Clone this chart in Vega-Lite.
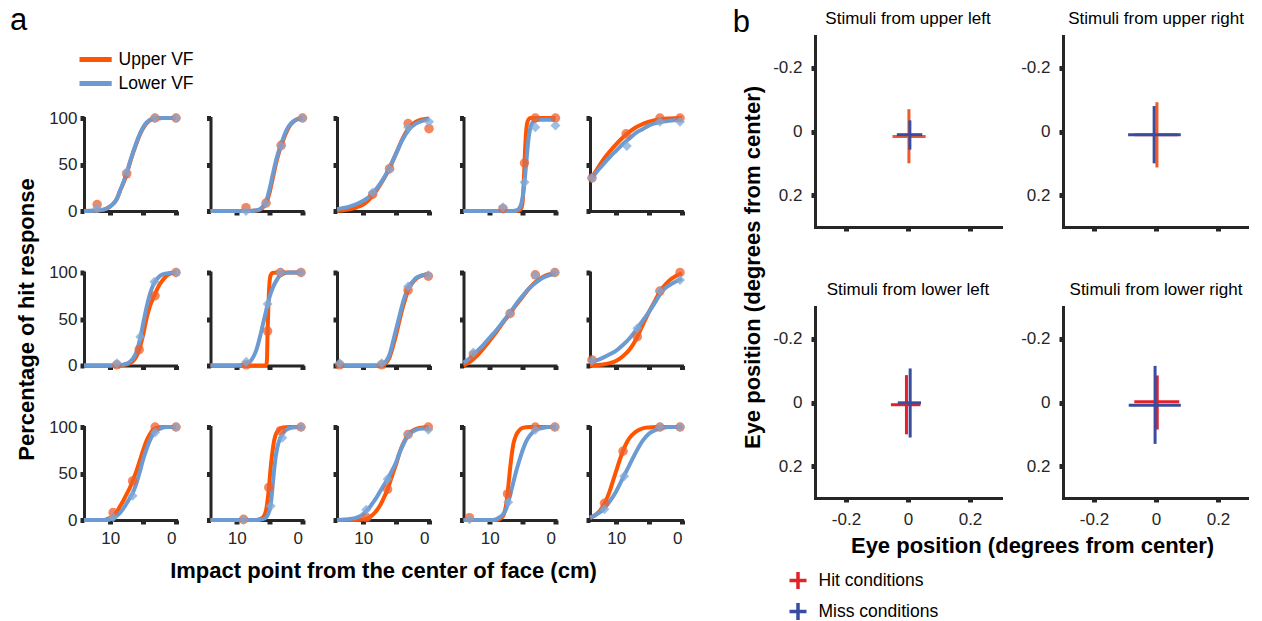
{
"$schema": "https://vega.github.io/schema/vega-lite/v6.json",
"padding": {"left": 10, "top": 5, "right": 0, "bottom": 0},
"background": "white",
"config": {
 "view": {"stroke": null},
 "font": "Liberation Sans",
 "axis": {"domainColor": "#262626", "domainWidth": 3, "domainCap": "square", "tickColor": "#262626", "tickWidth": 5, "tickSize": 4, "labelFontSize": 17, "labelColor": "#262626", "labelFont": "Liberation Sans", "grid": false, "titleFontSize": 22, "titleFontWeight": "bold", "titleColor": "#000000", "titleFont": "Liberation Sans"},
 "title": {"font": "Liberation Sans", "fontWeight": "normal", "color": "#000000"},
 "legend": {"labelFont": "Liberation Sans", "labelColor": "#000000"}
},
"datasets": {
"psy": [
{"p":"11","s":"U","k":"f","d":14,"v":0},{"p":"11","s":"U","k":"f","d":12,"v":0.5},{"p":"11","s":"U","k":"f","d":11,"v":1.5},{"p":"11","s":"U","k":"f","d":10,"v":5},{"p":"11","s":"U","k":"f","d":9,"v":13},{"p":"11","s":"U","k":"f","d":8.5,"v":22},{"p":"11","s":"U","k":"f","d":8,"v":30},{"p":"11","s":"U","k":"f","d":7.5,"v":40},{"p":"11","s":"U","k":"f","d":7,"v":52},{"p":"11","s":"U","k":"f","d":6.5,"v":63},{"p":"11","s":"U","k":"f","d":6,"v":73},{"p":"11","s":"U","k":"f","d":5.5,"v":82},{"p":"11","s":"U","k":"f","d":5,"v":89},{"p":"11","s":"U","k":"f","d":4.5,"v":94},{"p":"11","s":"U","k":"f","d":4,"v":97.5},{"p":"11","s":"U","k":"f","d":3.3,"v":99.5},{"p":"11","s":"U","k":"f","d":2,"v":100},{"p":"11","s":"U","k":"f","d":0,"v":100},
{"p":"11","s":"L","k":"f","d":14,"v":0},{"p":"11","s":"L","k":"f","d":12,"v":0.5},{"p":"11","s":"L","k":"f","d":11,"v":1.5},{"p":"11","s":"L","k":"f","d":10,"v":5},{"p":"11","s":"L","k":"f","d":9,"v":13},{"p":"11","s":"L","k":"f","d":8.5,"v":22},{"p":"11","s":"L","k":"f","d":8,"v":31},{"p":"11","s":"L","k":"f","d":7.5,"v":41},{"p":"11","s":"L","k":"f","d":7,"v":53},{"p":"11","s":"L","k":"f","d":6.5,"v":64},{"p":"11","s":"L","k":"f","d":6,"v":74},{"p":"11","s":"L","k":"f","d":5.5,"v":83},{"p":"11","s":"L","k":"f","d":5,"v":90},{"p":"11","s":"L","k":"f","d":4.5,"v":95},{"p":"11","s":"L","k":"f","d":4,"v":98},{"p":"11","s":"L","k":"f","d":3.3,"v":99.5},{"p":"11","s":"L","k":"f","d":2,"v":100},{"p":"11","s":"L","k":"f","d":0,"v":100},
{"p":"11","s":"U","k":"o","d":12,"v":7},{"p":"11","s":"U","k":"o","d":7.5,"v":40},{"p":"11","s":"U","k":"o","d":3.2,"v":100},{"p":"11","s":"U","k":"o","d":0,"v":100},
{"p":"11","s":"L","k":"o","d":12,"v":3},{"p":"11","s":"L","k":"o","d":7.5,"v":42},{"p":"11","s":"L","k":"o","d":3.2,"v":100},{"p":"11","s":"L","k":"o","d":0,"v":100},
{"p":"12","s":"U","k":"f","d":14,"v":0},{"p":"12","s":"U","k":"f","d":8,"v":0},{"p":"12","s":"U","k":"f","d":7,"v":0.5},{"p":"12","s":"U","k":"f","d":6.5,"v":1.5},{"p":"12","s":"U","k":"f","d":6,"v":4},{"p":"12","s":"U","k":"f","d":5.5,"v":9},{"p":"12","s":"U","k":"f","d":5,"v":20},{"p":"12","s":"U","k":"f","d":4.5,"v":36},{"p":"12","s":"U","k":"f","d":4,"v":52},{"p":"12","s":"U","k":"f","d":3.5,"v":65},{"p":"12","s":"U","k":"f","d":3,"v":75},{"p":"12","s":"U","k":"f","d":2.5,"v":84},{"p":"12","s":"U","k":"f","d":2,"v":91},{"p":"12","s":"U","k":"f","d":1.5,"v":95},{"p":"12","s":"U","k":"f","d":1,"v":98},{"p":"12","s":"U","k":"f","d":0,"v":100},
{"p":"12","s":"L","k":"f","d":14,"v":0},{"p":"12","s":"L","k":"f","d":8,"v":0},{"p":"12","s":"L","k":"f","d":7,"v":0.8},{"p":"12","s":"L","k":"f","d":6.5,"v":2},{"p":"12","s":"L","k":"f","d":6,"v":5},{"p":"12","s":"L","k":"f","d":5.5,"v":11},{"p":"12","s":"L","k":"f","d":5,"v":24},{"p":"12","s":"L","k":"f","d":4.5,"v":40},{"p":"12","s":"L","k":"f","d":4,"v":55},{"p":"12","s":"L","k":"f","d":3.5,"v":67},{"p":"12","s":"L","k":"f","d":3,"v":77},{"p":"12","s":"L","k":"f","d":2.5,"v":86},{"p":"12","s":"L","k":"f","d":2,"v":92},{"p":"12","s":"L","k":"f","d":1.5,"v":96},{"p":"12","s":"L","k":"f","d":1,"v":98},{"p":"12","s":"L","k":"f","d":0,"v":100},
{"p":"12","s":"U","k":"o","d":8.6,"v":3.6},{"p":"12","s":"U","k":"o","d":5.55,"v":8.6},{"p":"12","s":"U","k":"o","d":3.24,"v":70.6},{"p":"12","s":"U","k":"o","d":0,"v":100},
{"p":"12","s":"L","k":"o","d":8.6,"v":0},{"p":"12","s":"L","k":"o","d":5.55,"v":8},{"p":"12","s":"L","k":"o","d":3.24,"v":70},{"p":"12","s":"L","k":"o","d":0,"v":100},
{"p":"13","s":"U","k":"f","d":14,"v":0},{"p":"13","s":"U","k":"f","d":12,"v":2},{"p":"13","s":"U","k":"f","d":11,"v":4},{"p":"13","s":"U","k":"f","d":10,"v":7},{"p":"13","s":"U","k":"f","d":9,"v":13},{"p":"13","s":"U","k":"f","d":8.5,"v":17},{"p":"13","s":"U","k":"f","d":8,"v":22},{"p":"13","s":"U","k":"f","d":7,"v":33},{"p":"13","s":"U","k":"f","d":6,"v":46},{"p":"13","s":"U","k":"f","d":5,"v":62},{"p":"13","s":"U","k":"f","d":4,"v":78},{"p":"13","s":"U","k":"f","d":3,"v":90},{"p":"13","s":"U","k":"f","d":2,"v":96},{"p":"13","s":"U","k":"f","d":1,"v":98.5},{"p":"13","s":"U","k":"f","d":0,"v":99.5},
{"p":"13","s":"L","k":"f","d":14,"v":2},{"p":"13","s":"L","k":"f","d":12,"v":5},{"p":"13","s":"L","k":"f","d":11,"v":7.5},{"p":"13","s":"L","k":"f","d":10,"v":11},{"p":"13","s":"L","k":"f","d":9,"v":16},{"p":"13","s":"L","k":"f","d":8.5,"v":20},{"p":"13","s":"L","k":"f","d":8,"v":24},{"p":"13","s":"L","k":"f","d":7,"v":34},{"p":"13","s":"L","k":"f","d":6,"v":47},{"p":"13","s":"L","k":"f","d":5,"v":62},{"p":"13","s":"L","k":"f","d":4,"v":77},{"p":"13","s":"L","k":"f","d":3,"v":88},{"p":"13","s":"L","k":"f","d":2,"v":94},{"p":"13","s":"L","k":"f","d":1,"v":97},{"p":"13","s":"L","k":"f","d":0,"v":98.5},
{"p":"13","s":"U","k":"o","d":8.56,"v":18},{"p":"13","s":"U","k":"o","d":6,"v":45.5},{"p":"13","s":"U","k":"o","d":3.18,"v":94},{"p":"13","s":"U","k":"o","d":0,"v":88.5},
{"p":"13","s":"L","k":"o","d":8.56,"v":20},{"p":"13","s":"L","k":"o","d":6,"v":45},{"p":"13","s":"L","k":"o","d":3.18,"v":90},{"p":"13","s":"L","k":"o","d":0,"v":96},
{"p":"14","s":"U","k":"f","d":14,"v":0},{"p":"14","s":"U","k":"f","d":6,"v":0},{"p":"14","s":"U","k":"f","d":5.5,"v":0.5},{"p":"14","s":"U","k":"f","d":5.2,"v":3},{"p":"14","s":"U","k":"f","d":5,"v":10},{"p":"14","s":"U","k":"f","d":4.85,"v":28},{"p":"14","s":"U","k":"f","d":4.72,"v":50},{"p":"14","s":"U","k":"f","d":4.6,"v":70},{"p":"14","s":"U","k":"f","d":4.45,"v":87},{"p":"14","s":"U","k":"f","d":4.3,"v":95},{"p":"14","s":"U","k":"f","d":4.1,"v":98.5},{"p":"14","s":"U","k":"f","d":3.8,"v":100},{"p":"14","s":"U","k":"f","d":0,"v":100},
{"p":"14","s":"L","k":"f","d":14,"v":0},{"p":"14","s":"L","k":"f","d":6.5,"v":0},{"p":"14","s":"L","k":"f","d":6,"v":0.5},{"p":"14","s":"L","k":"f","d":5.5,"v":3},{"p":"14","s":"L","k":"f","d":5.2,"v":8},{"p":"14","s":"L","k":"f","d":4.9,"v":20},{"p":"14","s":"L","k":"f","d":4.72,"v":31},{"p":"14","s":"L","k":"f","d":4.5,"v":48},{"p":"14","s":"L","k":"f","d":4.3,"v":64},{"p":"14","s":"L","k":"f","d":4.1,"v":78},{"p":"14","s":"L","k":"f","d":3.9,"v":87},{"p":"14","s":"L","k":"f","d":3.6,"v":94},{"p":"14","s":"L","k":"f","d":3.2,"v":97},{"p":"14","s":"L","k":"f","d":2.5,"v":98},{"p":"14","s":"L","k":"f","d":0,"v":98},
{"p":"14","s":"U","k":"o","d":8,"v":2.5},{"p":"14","s":"U","k":"o","d":4.72,"v":51.6},{"p":"14","s":"U","k":"o","d":3.07,"v":100},{"p":"14","s":"U","k":"o","d":0,"v":100},
{"p":"14","s":"L","k":"o","d":8,"v":4},{"p":"14","s":"L","k":"o","d":4.72,"v":31},{"p":"14","s":"L","k":"o","d":3.07,"v":90},{"p":"14","s":"L","k":"o","d":0,"v":92},
{"p":"15","s":"U","k":"f","d":14,"v":33},{"p":"15","s":"U","k":"f","d":13,"v":44},{"p":"15","s":"U","k":"f","d":12,"v":55},{"p":"15","s":"U","k":"f","d":11,"v":64},{"p":"15","s":"U","k":"f","d":10,"v":72},{"p":"15","s":"U","k":"f","d":9,"v":79},{"p":"15","s":"U","k":"f","d":8,"v":85},{"p":"15","s":"U","k":"f","d":7,"v":90},{"p":"15","s":"U","k":"f","d":6,"v":93.5},{"p":"15","s":"U","k":"f","d":5,"v":96},{"p":"15","s":"U","k":"f","d":4,"v":98},{"p":"15","s":"U","k":"f","d":3,"v":99},{"p":"15","s":"U","k":"f","d":2,"v":99.5},{"p":"15","s":"U","k":"f","d":0,"v":100},
{"p":"15","s":"L","k":"f","d":14,"v":33},{"p":"15","s":"L","k":"f","d":13,"v":42},{"p":"15","s":"L","k":"f","d":12,"v":50},{"p":"15","s":"L","k":"f","d":11,"v":58},{"p":"15","s":"L","k":"f","d":10,"v":65},{"p":"15","s":"L","k":"f","d":9,"v":72},{"p":"15","s":"L","k":"f","d":8,"v":78},{"p":"15","s":"L","k":"f","d":7,"v":84},{"p":"15","s":"L","k":"f","d":6,"v":88},{"p":"15","s":"L","k":"f","d":5,"v":92},{"p":"15","s":"L","k":"f","d":4,"v":94.5},{"p":"15","s":"L","k":"f","d":3,"v":96},{"p":"15","s":"L","k":"f","d":2,"v":97},{"p":"15","s":"L","k":"f","d":0,"v":98},
{"p":"15","s":"U","k":"o","d":13.7,"v":35.5},{"p":"15","s":"U","k":"o","d":8.5,"v":83},{"p":"15","s":"U","k":"o","d":3.36,"v":100},{"p":"15","s":"U","k":"o","d":0.3,"v":100},
{"p":"15","s":"L","k":"o","d":13.7,"v":35.5},{"p":"15","s":"L","k":"o","d":8.4,"v":70},{"p":"15","s":"L","k":"o","d":3.36,"v":96},{"p":"15","s":"L","k":"o","d":0.3,"v":96},
{"p":"21","s":"U","k":"f","d":14,"v":0},{"p":"21","s":"U","k":"f","d":9,"v":0},{"p":"21","s":"U","k":"f","d":8,"v":0.5},{"p":"21","s":"U","k":"f","d":7,"v":2.5},{"p":"21","s":"U","k":"f","d":6.5,"v":5},{"p":"21","s":"U","k":"f","d":6,"v":10},{"p":"21","s":"U","k":"f","d":5.6,"v":17},{"p":"21","s":"U","k":"f","d":5,"v":33},{"p":"21","s":"U","k":"f","d":4.5,"v":50},{"p":"21","s":"U","k":"f","d":4,"v":63},{"p":"21","s":"U","k":"f","d":3.5,"v":72},{"p":"21","s":"U","k":"f","d":3,"v":80},{"p":"21","s":"U","k":"f","d":2.5,"v":87},{"p":"21","s":"U","k":"f","d":2,"v":92},{"p":"21","s":"U","k":"f","d":1.5,"v":96},{"p":"21","s":"U","k":"f","d":1,"v":98.5},{"p":"21","s":"U","k":"f","d":0,"v":100},
{"p":"21","s":"L","k":"f","d":14,"v":0},{"p":"21","s":"L","k":"f","d":9,"v":0},{"p":"21","s":"L","k":"f","d":8,"v":1},{"p":"21","s":"L","k":"f","d":7,"v":4},{"p":"21","s":"L","k":"f","d":6.5,"v":8},{"p":"21","s":"L","k":"f","d":6,"v":15},{"p":"21","s":"L","k":"f","d":5.4,"v":31},{"p":"21","s":"L","k":"f","d":5,"v":45},{"p":"21","s":"L","k":"f","d":4.5,"v":62},{"p":"21","s":"L","k":"f","d":4,"v":76},{"p":"21","s":"L","k":"f","d":3.5,"v":86},{"p":"21","s":"L","k":"f","d":3,"v":92},{"p":"21","s":"L","k":"f","d":2.5,"v":96},{"p":"21","s":"L","k":"f","d":2,"v":98},{"p":"21","s":"L","k":"f","d":1,"v":99.5},{"p":"21","s":"L","k":"f","d":0,"v":100},
{"p":"21","s":"U","k":"o","d":9,"v":0.7},{"p":"21","s":"U","k":"o","d":5.6,"v":17},{"p":"21","s":"U","k":"o","d":3.18,"v":75},{"p":"21","s":"U","k":"o","d":0,"v":100},
{"p":"21","s":"L","k":"o","d":9,"v":2.5},{"p":"21","s":"L","k":"o","d":5.43,"v":31},{"p":"21","s":"L","k":"o","d":3.3,"v":90},{"p":"21","s":"L","k":"o","d":0,"v":100},
{"p":"22","s":"U","k":"f","d":14,"v":0},{"p":"22","s":"U","k":"f","d":5.7,"v":0},{"p":"22","s":"U","k":"f","d":5.5,"v":1},{"p":"22","s":"U","k":"f","d":5.4,"v":8},{"p":"22","s":"U","k":"f","d":5.31,"v":37},{"p":"22","s":"U","k":"f","d":5.2,"v":62},{"p":"22","s":"U","k":"f","d":5.1,"v":80},{"p":"22","s":"U","k":"f","d":5,"v":91},{"p":"22","s":"U","k":"f","d":4.85,"v":97},{"p":"22","s":"U","k":"f","d":4.6,"v":99.5},{"p":"22","s":"U","k":"f","d":4,"v":100},{"p":"22","s":"U","k":"f","d":0,"v":100},
{"p":"22","s":"L","k":"f","d":14,"v":0},{"p":"22","s":"L","k":"f","d":10,"v":0},{"p":"22","s":"L","k":"f","d":9,"v":1},{"p":"22","s":"L","k":"f","d":8.5,"v":2},{"p":"22","s":"L","k":"f","d":8,"v":4},{"p":"22","s":"L","k":"f","d":7.5,"v":9},{"p":"22","s":"L","k":"f","d":7,"v":17},{"p":"22","s":"L","k":"f","d":6.5,"v":30},{"p":"22","s":"L","k":"f","d":6,"v":45},{"p":"22","s":"L","k":"f","d":5.5,"v":60},{"p":"22","s":"L","k":"f","d":5.3,"v":66},{"p":"22","s":"L","k":"f","d":5,"v":74},{"p":"22","s":"L","k":"f","d":4.5,"v":84},{"p":"22","s":"L","k":"f","d":4,"v":91},{"p":"22","s":"L","k":"f","d":3.5,"v":96},{"p":"22","s":"L","k":"f","d":3,"v":98.5},{"p":"22","s":"L","k":"f","d":2,"v":100},{"p":"22","s":"L","k":"f","d":0,"v":100},
{"p":"22","s":"U","k":"o","d":8.56,"v":0.7},{"p":"22","s":"U","k":"o","d":5.31,"v":37},{"p":"22","s":"U","k":"o","d":3.36,"v":100},{"p":"22","s":"U","k":"o","d":0.23,"v":100},
{"p":"22","s":"L","k":"o","d":8.56,"v":4},{"p":"22","s":"L","k":"o","d":5.31,"v":66},{"p":"22","s":"L","k":"o","d":3.36,"v":100},{"p":"22","s":"L","k":"o","d":0.23,"v":100},
{"p":"23","s":"U","k":"f","d":14,"v":0},{"p":"23","s":"U","k":"f","d":7.5,"v":0},{"p":"23","s":"U","k":"f","d":7,"v":1},{"p":"23","s":"U","k":"f","d":6.5,"v":3},{"p":"23","s":"U","k":"f","d":6,"v":9},{"p":"23","s":"U","k":"f","d":5.5,"v":20},{"p":"23","s":"U","k":"f","d":5,"v":33},{"p":"23","s":"U","k":"f","d":4.5,"v":48},{"p":"23","s":"U","k":"f","d":4,"v":62},{"p":"23","s":"U","k":"f","d":3.5,"v":74},{"p":"23","s":"U","k":"f","d":3.2,"v":81},{"p":"23","s":"U","k":"f","d":2.5,"v":89},{"p":"23","s":"U","k":"f","d":2,"v":93},{"p":"23","s":"U","k":"f","d":1,"v":97},{"p":"23","s":"U","k":"f","d":0,"v":98.5},
{"p":"23","s":"L","k":"f","d":14,"v":0},{"p":"23","s":"L","k":"f","d":8,"v":0},{"p":"23","s":"L","k":"f","d":7,"v":1.5},{"p":"23","s":"L","k":"f","d":6.5,"v":5},{"p":"23","s":"L","k":"f","d":6,"v":12},{"p":"23","s":"L","k":"f","d":5.5,"v":25},{"p":"23","s":"L","k":"f","d":5,"v":39},{"p":"23","s":"L","k":"f","d":4.5,"v":53},{"p":"23","s":"L","k":"f","d":4,"v":67},{"p":"23","s":"L","k":"f","d":3.5,"v":78},{"p":"23","s":"L","k":"f","d":3.2,"v":84},{"p":"23","s":"L","k":"f","d":2.5,"v":90},{"p":"23","s":"L","k":"f","d":2,"v":94},{"p":"23","s":"L","k":"f","d":1,"v":97},{"p":"23","s":"L","k":"f","d":0,"v":98.5},
{"p":"23","s":"U","k":"o","d":13.6,"v":0.7},{"p":"23","s":"U","k":"o","d":7.2,"v":0.7},{"p":"23","s":"U","k":"o","d":3.18,"v":81},{"p":"23","s":"U","k":"o","d":0.1,"v":96},
{"p":"23","s":"L","k":"o","d":13.6,"v":2.5},{"p":"23","s":"L","k":"o","d":7.2,"v":2.5},{"p":"23","s":"L","k":"o","d":3.18,"v":85},{"p":"23","s":"L","k":"o","d":0.1,"v":97},
{"p":"24","s":"U","k":"f","d":14,"v":0},{"p":"24","s":"U","k":"f","d":13,"v":4},{"p":"24","s":"U","k":"f","d":12,"v":10},{"p":"24","s":"U","k":"f","d":11,"v":18},{"p":"24","s":"U","k":"f","d":10,"v":27},{"p":"24","s":"U","k":"f","d":9,"v":36},{"p":"24","s":"U","k":"f","d":8,"v":46},{"p":"24","s":"U","k":"f","d":7,"v":55},{"p":"24","s":"U","k":"f","d":6,"v":65},{"p":"24","s":"U","k":"f","d":5,"v":74},{"p":"24","s":"U","k":"f","d":4,"v":83},{"p":"24","s":"U","k":"f","d":3,"v":90},{"p":"24","s":"U","k":"f","d":2,"v":95},{"p":"24","s":"U","k":"f","d":1,"v":98},{"p":"24","s":"U","k":"f","d":0,"v":99.5},
{"p":"24","s":"L","k":"f","d":14,"v":3},{"p":"24","s":"L","k":"f","d":13,"v":8},{"p":"24","s":"L","k":"f","d":12,"v":15},{"p":"24","s":"L","k":"f","d":11,"v":22},{"p":"24","s":"L","k":"f","d":10,"v":30},{"p":"24","s":"L","k":"f","d":9,"v":38},{"p":"24","s":"L","k":"f","d":8,"v":47},{"p":"24","s":"L","k":"f","d":7,"v":56},{"p":"24","s":"L","k":"f","d":6,"v":66},{"p":"24","s":"L","k":"f","d":5,"v":75},{"p":"24","s":"L","k":"f","d":4,"v":83},{"p":"24","s":"L","k":"f","d":3,"v":89},{"p":"24","s":"L","k":"f","d":2,"v":94},{"p":"24","s":"L","k":"f","d":1,"v":97},{"p":"24","s":"L","k":"f","d":0,"v":98.5},
{"p":"24","s":"U","k":"o","d":12.5,"v":11.5},{"p":"24","s":"U","k":"o","d":6.9,"v":56},{"p":"24","s":"U","k":"o","d":3.07,"v":97.5},{"p":"24","s":"U","k":"o","d":0.1,"v":100},
{"p":"24","s":"L","k":"o","d":12.5,"v":14},{"p":"24","s":"L","k":"o","d":6.9,"v":56},{"p":"24","s":"L","k":"o","d":3.07,"v":97},{"p":"24","s":"L","k":"o","d":0.1,"v":100},
{"p":"25","s":"U","k":"f","d":14,"v":0},{"p":"25","s":"U","k":"f","d":12,"v":1},{"p":"25","s":"U","k":"f","d":11,"v":2.5},{"p":"25","s":"U","k":"f","d":10,"v":5},{"p":"25","s":"U","k":"f","d":9,"v":10},{"p":"25","s":"U","k":"f","d":8,"v":17},{"p":"25","s":"U","k":"f","d":7,"v":28},{"p":"25","s":"U","k":"f","d":6,"v":43},{"p":"25","s":"U","k":"f","d":5,"v":58},{"p":"25","s":"U","k":"f","d":4,"v":71},{"p":"25","s":"U","k":"f","d":3.4,"v":79},{"p":"25","s":"U","k":"f","d":3,"v":83},{"p":"25","s":"U","k":"f","d":2,"v":91},{"p":"25","s":"U","k":"f","d":1,"v":96},{"p":"25","s":"U","k":"f","d":0,"v":99},
{"p":"25","s":"L","k":"f","d":14,"v":3},{"p":"25","s":"L","k":"f","d":13,"v":5.5},{"p":"25","s":"L","k":"f","d":12,"v":8.5},{"p":"25","s":"L","k":"f","d":11,"v":12},{"p":"25","s":"L","k":"f","d":10,"v":16},{"p":"25","s":"L","k":"f","d":9,"v":22},{"p":"25","s":"L","k":"f","d":8,"v":29},{"p":"25","s":"L","k":"f","d":7,"v":38},{"p":"25","s":"L","k":"f","d":6,"v":48},{"p":"25","s":"L","k":"f","d":5,"v":58},{"p":"25","s":"L","k":"f","d":4,"v":69},{"p":"25","s":"L","k":"f","d":3.4,"v":76},{"p":"25","s":"L","k":"f","d":3,"v":80},{"p":"25","s":"L","k":"f","d":2,"v":86},{"p":"25","s":"L","k":"f","d":1,"v":90},{"p":"25","s":"L","k":"f","d":0,"v":93},
{"p":"25","s":"U","k":"o","d":13.7,"v":6},{"p":"25","s":"U","k":"o","d":6.8,"v":31},{"p":"25","s":"U","k":"o","d":3.36,"v":80},{"p":"25","s":"U","k":"o","d":0.3,"v":100},
{"p":"25","s":"L","k":"o","d":13.7,"v":5},{"p":"25","s":"L","k":"o","d":6.8,"v":40},{"p":"25","s":"L","k":"o","d":3.36,"v":80},{"p":"25","s":"L","k":"o","d":0.3,"v":92},
{"p":"31","s":"U","k":"f","d":14,"v":0},{"p":"31","s":"U","k":"f","d":11,"v":0},{"p":"31","s":"U","k":"f","d":10.5,"v":1},{"p":"31","s":"U","k":"f","d":10,"v":2.5},{"p":"31","s":"U","k":"f","d":9.5,"v":5},{"p":"31","s":"U","k":"f","d":9,"v":9},{"p":"31","s":"U","k":"f","d":8.5,"v":15},{"p":"31","s":"U","k":"f","d":8,"v":21},{"p":"31","s":"U","k":"f","d":7.5,"v":28},{"p":"31","s":"U","k":"f","d":7,"v":35},{"p":"31","s":"U","k":"f","d":6.6,"v":42},{"p":"31","s":"U","k":"f","d":6,"v":53},{"p":"31","s":"U","k":"f","d":5.5,"v":64},{"p":"31","s":"U","k":"f","d":5,"v":75},{"p":"31","s":"U","k":"f","d":4.5,"v":85},{"p":"31","s":"U","k":"f","d":4,"v":92},{"p":"31","s":"U","k":"f","d":3.5,"v":97},{"p":"31","s":"U","k":"f","d":3,"v":99},{"p":"31","s":"U","k":"f","d":2,"v":100},{"p":"31","s":"U","k":"f","d":0,"v":100},
{"p":"31","s":"L","k":"f","d":14,"v":0},{"p":"31","s":"L","k":"f","d":10.5,"v":0},{"p":"31","s":"L","k":"f","d":10,"v":0.8},{"p":"31","s":"L","k":"f","d":9.5,"v":2},{"p":"31","s":"L","k":"f","d":9,"v":4.5},{"p":"31","s":"L","k":"f","d":8.5,"v":8},{"p":"31","s":"L","k":"f","d":8,"v":12.5},{"p":"31","s":"L","k":"f","d":7.5,"v":18},{"p":"31","s":"L","k":"f","d":7,"v":24},{"p":"31","s":"L","k":"f","d":6.6,"v":29},{"p":"31","s":"L","k":"f","d":6,"v":40},{"p":"31","s":"L","k":"f","d":5.5,"v":52},{"p":"31","s":"L","k":"f","d":5,"v":65},{"p":"31","s":"L","k":"f","d":4.5,"v":76},{"p":"31","s":"L","k":"f","d":4,"v":85},{"p":"31","s":"L","k":"f","d":3.5,"v":92},{"p":"31","s":"L","k":"f","d":3,"v":96},{"p":"31","s":"L","k":"f","d":2.5,"v":98},{"p":"31","s":"L","k":"f","d":1.5,"v":100},{"p":"31","s":"L","k":"f","d":0,"v":100},
{"p":"31","s":"U","k":"o","d":9.57,"v":8},{"p":"31","s":"U","k":"o","d":6.6,"v":42},{"p":"31","s":"U","k":"o","d":3.18,"v":100},{"p":"31","s":"U","k":"o","d":0,"v":100},
{"p":"31","s":"L","k":"o","d":9.57,"v":3},{"p":"31","s":"L","k":"o","d":6.6,"v":26},{"p":"31","s":"L","k":"o","d":3.18,"v":94},{"p":"31","s":"L","k":"o","d":0,"v":100},
{"p":"32","s":"U","k":"f","d":14,"v":0},{"p":"32","s":"U","k":"f","d":7,"v":0},{"p":"32","s":"U","k":"f","d":6.5,"v":1},{"p":"32","s":"U","k":"f","d":6,"v":3},{"p":"32","s":"U","k":"f","d":5.5,"v":12},{"p":"32","s":"U","k":"f","d":5.3,"v":22},{"p":"32","s":"U","k":"f","d":5.1,"v":35},{"p":"32","s":"U","k":"f","d":4.9,"v":52},{"p":"32","s":"U","k":"f","d":4.7,"v":66},{"p":"32","s":"U","k":"f","d":4.5,"v":77},{"p":"32","s":"U","k":"f","d":4.3,"v":86},{"p":"32","s":"U","k":"f","d":4,"v":93},{"p":"32","s":"U","k":"f","d":3.6,"v":97},{"p":"32","s":"U","k":"f","d":3,"v":99.5},{"p":"32","s":"U","k":"f","d":2,"v":100},{"p":"32","s":"U","k":"f","d":0,"v":100},
{"p":"32","s":"L","k":"f","d":14,"v":0},{"p":"32","s":"L","k":"f","d":7,"v":0},{"p":"32","s":"L","k":"f","d":6,"v":1},{"p":"32","s":"L","k":"f","d":5.5,"v":3},{"p":"32","s":"L","k":"f","d":5.2,"v":7},{"p":"32","s":"L","k":"f","d":4.9,"v":14},{"p":"32","s":"L","k":"f","d":4.7,"v":25},{"p":"32","s":"L","k":"f","d":4.5,"v":40},{"p":"32","s":"L","k":"f","d":4.3,"v":55},{"p":"32","s":"L","k":"f","d":4.1,"v":67},{"p":"32","s":"L","k":"f","d":3.8,"v":79},{"p":"32","s":"L","k":"f","d":3.4,"v":88},{"p":"32","s":"L","k":"f","d":3,"v":93},{"p":"32","s":"L","k":"f","d":2.5,"v":97},{"p":"32","s":"L","k":"f","d":1.5,"v":99.5},{"p":"32","s":"L","k":"f","d":0,"v":100},
{"p":"32","s":"U","k":"o","d":8.97,"v":0.7},{"p":"32","s":"U","k":"o","d":5.13,"v":35},{"p":"32","s":"U","k":"o","d":3.36,"v":96},{"p":"32","s":"U","k":"o","d":0.23,"v":100},
{"p":"32","s":"L","k":"o","d":8.97,"v":0},{"p":"32","s":"L","k":"o","d":4.84,"v":15},{"p":"32","s":"L","k":"o","d":3.07,"v":88.5},{"p":"32","s":"L","k":"o","d":0.23,"v":100},
{"p":"33","s":"U","k":"f","d":14,"v":0},{"p":"33","s":"U","k":"f","d":11,"v":0},{"p":"33","s":"U","k":"f","d":10,"v":0.5},{"p":"33","s":"U","k":"f","d":9.5,"v":1.5},{"p":"33","s":"U","k":"f","d":9,"v":3},{"p":"33","s":"U","k":"f","d":8.5,"v":6},{"p":"33","s":"U","k":"f","d":8,"v":10},{"p":"33","s":"U","k":"f","d":7.5,"v":15},{"p":"33","s":"U","k":"f","d":7,"v":22},{"p":"33","s":"U","k":"f","d":6.3,"v":33},{"p":"33","s":"U","k":"f","d":5.5,"v":50},{"p":"33","s":"U","k":"f","d":5,"v":60},{"p":"33","s":"U","k":"f","d":4.5,"v":72},{"p":"33","s":"U","k":"f","d":4,"v":81},{"p":"33","s":"U","k":"f","d":3.5,"v":88},{"p":"33","s":"U","k":"f","d":3,"v":93},{"p":"33","s":"U","k":"f","d":2.5,"v":96},{"p":"33","s":"U","k":"f","d":1.5,"v":99},{"p":"33","s":"U","k":"f","d":0,"v":100},
{"p":"33","s":"L","k":"f","d":14,"v":0},{"p":"33","s":"L","k":"f","d":12,"v":1},{"p":"33","s":"L","k":"f","d":11,"v":2.5},{"p":"33","s":"L","k":"f","d":10.5,"v":4},{"p":"33","s":"L","k":"f","d":10,"v":6.5},{"p":"33","s":"L","k":"f","d":9.5,"v":10},{"p":"33","s":"L","k":"f","d":9,"v":14},{"p":"33","s":"L","k":"f","d":8.5,"v":19},{"p":"33","s":"L","k":"f","d":8,"v":24},{"p":"33","s":"L","k":"f","d":7.5,"v":30},{"p":"33","s":"L","k":"f","d":7,"v":36},{"p":"33","s":"L","k":"f","d":6.3,"v":44},{"p":"33","s":"L","k":"f","d":5.5,"v":55},{"p":"33","s":"L","k":"f","d":5,"v":62},{"p":"33","s":"L","k":"f","d":4.5,"v":72},{"p":"33","s":"L","k":"f","d":4,"v":80},{"p":"33","s":"L","k":"f","d":3.5,"v":87},{"p":"33","s":"L","k":"f","d":3,"v":92},{"p":"33","s":"L","k":"f","d":2.5,"v":95},{"p":"33","s":"L","k":"f","d":1.5,"v":98},{"p":"33","s":"L","k":"f","d":0,"v":99},
{"p":"33","s":"U","k":"o","d":9.45,"v":2.5},{"p":"33","s":"U","k":"o","d":6.3,"v":33},{"p":"33","s":"U","k":"o","d":3.18,"v":92},{"p":"33","s":"U","k":"o","d":0.1,"v":100},
{"p":"33","s":"L","k":"o","d":9.56,"v":11},{"p":"33","s":"L","k":"o","d":6.3,"v":44},{"p":"33","s":"L","k":"o","d":3.18,"v":92},{"p":"33","s":"L","k":"o","d":0.1,"v":97},
{"p":"34","s":"U","k":"f","d":14,"v":0},{"p":"34","s":"U","k":"f","d":9,"v":0},{"p":"34","s":"U","k":"f","d":8.5,"v":1},{"p":"34","s":"U","k":"f","d":8,"v":4},{"p":"34","s":"U","k":"f","d":7.7,"v":10},{"p":"34","s":"U","k":"f","d":7.5,"v":17},{"p":"34","s":"U","k":"f","d":7.3,"v":28},{"p":"34","s":"U","k":"f","d":7.1,"v":42},{"p":"34","s":"U","k":"f","d":6.9,"v":56},{"p":"34","s":"U","k":"f","d":6.7,"v":68},{"p":"34","s":"U","k":"f","d":6.4,"v":82},{"p":"34","s":"U","k":"f","d":6,"v":91},{"p":"34","s":"U","k":"f","d":5.5,"v":96.5},{"p":"34","s":"U","k":"f","d":5,"v":99},{"p":"34","s":"U","k":"f","d":4,"v":100},{"p":"34","s":"U","k":"f","d":0,"v":100},
{"p":"34","s":"L","k":"f","d":14,"v":0},{"p":"34","s":"L","k":"f","d":9.5,"v":0},{"p":"34","s":"L","k":"f","d":9,"v":1},{"p":"34","s":"L","k":"f","d":8.5,"v":3},{"p":"34","s":"L","k":"f","d":8,"v":6},{"p":"34","s":"L","k":"f","d":7.5,"v":12},{"p":"34","s":"L","k":"f","d":7.2,"v":19},{"p":"34","s":"L","k":"f","d":7,"v":24},{"p":"34","s":"L","k":"f","d":6.5,"v":38},{"p":"34","s":"L","k":"f","d":6,"v":52},{"p":"34","s":"L","k":"f","d":5.5,"v":64},{"p":"34","s":"L","k":"f","d":5,"v":75},{"p":"34","s":"L","k":"f","d":4.5,"v":84},{"p":"34","s":"L","k":"f","d":4,"v":90},{"p":"34","s":"L","k":"f","d":3.5,"v":94},{"p":"34","s":"L","k":"f","d":3,"v":97},{"p":"34","s":"L","k":"f","d":2,"v":99},{"p":"34","s":"L","k":"f","d":1,"v":100},{"p":"34","s":"L","k":"f","d":0,"v":100},
{"p":"34","s":"U","k":"o","d":13.1,"v":2.5},{"p":"34","s":"U","k":"o","d":7.3,"v":28},{"p":"34","s":"U","k":"o","d":3.07,"v":100},{"p":"34","s":"U","k":"o","d":0.1,"v":100},
{"p":"34","s":"L","k":"o","d":13.1,"v":0.7},{"p":"34","s":"L","k":"o","d":7.2,"v":19},{"p":"34","s":"L","k":"o","d":3.07,"v":97},{"p":"34","s":"L","k":"o","d":0.1,"v":100},
{"p":"35","s":"U","k":"f","d":14,"v":2},{"p":"35","s":"U","k":"f","d":13.5,"v":4},{"p":"35","s":"U","k":"f","d":13,"v":6.5},{"p":"35","s":"U","k":"f","d":12.5,"v":10},{"p":"35","s":"U","k":"f","d":12,"v":15},{"p":"35","s":"U","k":"f","d":11.5,"v":22},{"p":"35","s":"U","k":"f","d":11,"v":31},{"p":"35","s":"U","k":"f","d":10.5,"v":42},{"p":"35","s":"U","k":"f","d":10,"v":53},{"p":"35","s":"U","k":"f","d":9.5,"v":64},{"p":"35","s":"U","k":"f","d":9,"v":74},{"p":"35","s":"U","k":"f","d":8.5,"v":82},{"p":"35","s":"U","k":"f","d":8,"v":88},{"p":"35","s":"U","k":"f","d":7.5,"v":92},{"p":"35","s":"U","k":"f","d":7,"v":95},{"p":"35","s":"U","k":"f","d":6,"v":98.5},{"p":"35","s":"U","k":"f","d":5,"v":99.5},{"p":"35","s":"U","k":"f","d":4,"v":100},{"p":"35","s":"U","k":"f","d":0,"v":100},
{"p":"35","s":"L","k":"f","d":14,"v":2.5},{"p":"35","s":"L","k":"f","d":13,"v":6},{"p":"35","s":"L","k":"f","d":12,"v":11},{"p":"35","s":"L","k":"f","d":11,"v":20},{"p":"35","s":"L","k":"f","d":10,"v":31},{"p":"35","s":"L","k":"f","d":9.5,"v":38},{"p":"35","s":"L","k":"f","d":9,"v":45},{"p":"35","s":"L","k":"f","d":8.5,"v":52},{"p":"35","s":"L","k":"f","d":8,"v":59},{"p":"35","s":"L","k":"f","d":7,"v":73},{"p":"35","s":"L","k":"f","d":6,"v":85},{"p":"35","s":"L","k":"f","d":5,"v":93},{"p":"35","s":"L","k":"f","d":4,"v":97},{"p":"35","s":"L","k":"f","d":3,"v":99},{"p":"35","s":"L","k":"f","d":2,"v":100},{"p":"35","s":"L","k":"f","d":0,"v":100},
{"p":"35","s":"U","k":"o","d":11.8,"v":18},{"p":"35","s":"U","k":"o","d":8.97,"v":74},{"p":"35","s":"U","k":"o","d":3.36,"v":100},{"p":"35","s":"U","k":"o","d":0.3,"v":100},
{"p":"35","s":"L","k":"o","d":11.8,"v":11.5},{"p":"35","s":"L","k":"o","d":8.8,"v":47},{"p":"35","s":"L","k":"o","d":3.36,"v":100},{"p":"35","s":"L","k":"o","d":0.3,"v":100}
],
"cross": [
{"p":"UL","c":"Hit conditions","x":-0.05,"x2":0.057,"y":0.016,"y2":0.016},
{"p":"UL","c":"Hit conditions","x":0.003,"x2":0.003,"y":-0.07,"y2":0.1},
{"p":"UL","c":"Miss conditions","x":-0.036,"x2":0.046,"y":0.01,"y2":0.01},
{"p":"UL","c":"Miss conditions","x":0.006,"x2":0.006,"y":-0.035,"y2":0.057},
{"p":"UR","c":"Hit conditions","x":-0.07,"x2":0.07,"y":0.01,"y2":0.01},
{"p":"UR","c":"Hit conditions","x":0.003,"x2":0.003,"y":-0.092,"y2":0.113},
{"p":"UR","c":"Miss conditions","x":-0.09,"x2":0.08,"y":0.01,"y2":0.01},
{"p":"UR","c":"Miss conditions","x":-0.006,"x2":-0.006,"y":-0.08,"y2":0.1},
{"p":"LL","c":"Hit conditions","x":-0.055,"x2":0.04,"y":0.007,"y2":0.007},
{"p":"LL","c":"Hit conditions","x":-0.005,"x2":-0.005,"y":-0.086,"y2":0.1},
{"p":"LL","c":"Miss conditions","x":-0.033,"x2":0.042,"y":0.001,"y2":0.001},
{"p":"LL","c":"Miss conditions","x":0.007,"x2":0.007,"y":-0.107,"y2":0.11},
{"p":"LR","c":"Hit conditions","x":-0.07,"x2":0.075,"y":-0.002,"y2":-0.002},
{"p":"LR","c":"Hit conditions","x":0.004,"x2":0.004,"y":-0.085,"y2":0.085},
{"p":"LR","c":"Miss conditions","x":-0.088,"x2":0.08,"y":0.009,"y2":0.009},
{"p":"LR","c":"Miss conditions","x":-0.003,"x2":-0.003,"y":-0.115,"y2":0.13}
]
},
"resolve": {"scale": {"color": "independent"}},
"spacing": 42,
"hconcat": [
{
"spacing": 13,
"resolve": {"scale": {"color": "independent"}},
"vconcat": [
{"title": {"text": "a", "anchor": "start", "frame": "group", "dx": -74, "offset": -25, "fontSize": 31, "baseline": "alphabetic"},
 "width": 92, "height": 60, "data": {"name": "psy"}, "transform": [{"filter": "datum.p=='none'"}],
 "mark": {"type": "line", "strokeWidth": 4},
 "encoding": {
  "x": {"field": "d", "type": "quantitative", "scale": {"domain": [0, 14]}, "axis": null},
  "y": {"field": "v", "type": "quantitative", "scale": {"domain": [0, 100]}, "axis": null},
  "color": {"field": "s", "type": "nominal", "scale": {"domain": ["U", "L"], "range": ["#FF5500", "#6B9BD2"]}, "legend": {"orient": "none", "legendX": -2.4, "legendY": 9.5, "title": null, "symbolType": "M-1.4,0H1.4", "symbolSize": 529, "symbolStrokeWidth": 5, "labelFontSize": 17.5, "labelOffset": 9, "rowPadding": 0, "labelExpr": "datum.label=='U'?'Upper VF':'Lower VF'"}}}},
{
"columns": 5,
"spacing": {"row": 61.5, "column": 34.5},
"bounds": "flush",
"resolve": {"scale": {"color": "independent"}},
"concat": [
{"width": 92, "height": 93, "data": {"name": "psy"}, "transform": [{"filter": "datum.p=='11'"}],
 "encoding": {"x": {"field": "d", "type": "quantitative", "scale": {"domain": [0, 14], "reverse": true, "nice": false, "zero": false}, "axis": {"values": [0, 5, 10], "labels": false, "title": null}},
  "y": {"field": "v", "type": "quantitative", "scale": {"domain": [0, 100], "nice": false}, "axis": {"values": [0, 50, 100], "labelPadding": 3, "title": null}}},
 "layer": [
  {"transform": [{"filter": "datum.k=='f'&&datum.s=='U'"}], "mark": {"type": "line", "interpolate": "monotone", "strokeWidth": 4, "color": "#FF5500"}, "encoding": {}},
  {"transform": [{"filter": "datum.k=='f'&&datum.s=='L'"}], "mark": {"type": "line", "interpolate": "monotone", "strokeWidth": 4, "color": "#6B9BD2"}, "encoding": {}},
  {"transform": [{"filter": "datum.k=='o'&&datum.s=='U'"}], "mark": {"type": "point", "shape": "circle", "filled": true, "size": 90, "opacity": 0.75, "strokeWidth": 0, "color": "#F25F2A"}, "encoding": {}},
  {"transform": [{"filter": "datum.k=='o'&&datum.s=='L'"}], "mark": {"type": "point", "shape": "diamond", "filled": true, "size": 100, "opacity": 0.75, "strokeWidth": 0, "color": "#7FA9D8"}, "encoding": {}}
 ]},
{"width": 92, "height": 93, "data": {"name": "psy"}, "transform": [{"filter": "datum.p=='12'"}],
 "encoding": {"x": {"field": "d", "type": "quantitative", "scale": {"domain": [0, 14], "reverse": true, "nice": false, "zero": false}, "axis": {"values": [0, 5, 10], "labels": false, "title": null}},
  "y": {"field": "v", "type": "quantitative", "scale": {"domain": [0, 100], "nice": false}, "axis": {"values": [0, 50, 100], "labels": false, "title": null}}},
 "layer": [
  {"transform": [{"filter": "datum.k=='f'&&datum.s=='U'"}], "mark": {"type": "line", "interpolate": "monotone", "strokeWidth": 4, "color": "#FF5500"}, "encoding": {}},
  {"transform": [{"filter": "datum.k=='f'&&datum.s=='L'"}], "mark": {"type": "line", "interpolate": "monotone", "strokeWidth": 4, "color": "#6B9BD2"}, "encoding": {}},
  {"transform": [{"filter": "datum.k=='o'&&datum.s=='U'"}], "mark": {"type": "point", "shape": "circle", "filled": true, "size": 90, "opacity": 0.75, "strokeWidth": 0, "color": "#F25F2A"}, "encoding": {}},
  {"transform": [{"filter": "datum.k=='o'&&datum.s=='L'"}], "mark": {"type": "point", "shape": "diamond", "filled": true, "size": 100, "opacity": 0.75, "strokeWidth": 0, "color": "#7FA9D8"}, "encoding": {}}
 ]},
{"width": 92, "height": 93, "data": {"name": "psy"}, "transform": [{"filter": "datum.p=='13'"}],
 "encoding": {"x": {"field": "d", "type": "quantitative", "scale": {"domain": [0, 14], "reverse": true, "nice": false, "zero": false}, "axis": {"values": [0, 5, 10], "labels": false, "title": null}},
  "y": {"field": "v", "type": "quantitative", "scale": {"domain": [0, 100], "nice": false}, "axis": {"values": [0, 50, 100], "labels": false, "title": null}}},
 "layer": [
  {"transform": [{"filter": "datum.k=='f'&&datum.s=='U'"}], "mark": {"type": "line", "interpolate": "monotone", "strokeWidth": 4, "color": "#FF5500"}, "encoding": {}},
  {"transform": [{"filter": "datum.k=='f'&&datum.s=='L'"}], "mark": {"type": "line", "interpolate": "monotone", "strokeWidth": 4, "color": "#6B9BD2"}, "encoding": {}},
  {"transform": [{"filter": "datum.k=='o'&&datum.s=='U'"}], "mark": {"type": "point", "shape": "circle", "filled": true, "size": 90, "opacity": 0.75, "strokeWidth": 0, "color": "#F25F2A"}, "encoding": {}},
  {"transform": [{"filter": "datum.k=='o'&&datum.s=='L'"}], "mark": {"type": "point", "shape": "diamond", "filled": true, "size": 100, "opacity": 0.75, "strokeWidth": 0, "color": "#7FA9D8"}, "encoding": {}}
 ]},
{"width": 92, "height": 93, "data": {"name": "psy"}, "transform": [{"filter": "datum.p=='14'"}],
 "encoding": {"x": {"field": "d", "type": "quantitative", "scale": {"domain": [0, 14], "reverse": true, "nice": false, "zero": false}, "axis": {"values": [0, 5, 10], "labels": false, "title": null}},
  "y": {"field": "v", "type": "quantitative", "scale": {"domain": [0, 100], "nice": false}, "axis": {"values": [0, 50, 100], "labels": false, "title": null}}},
 "layer": [
  {"transform": [{"filter": "datum.k=='f'&&datum.s=='U'"}], "mark": {"type": "line", "interpolate": "monotone", "strokeWidth": 4, "color": "#FF5500"}, "encoding": {}},
  {"transform": [{"filter": "datum.k=='f'&&datum.s=='L'"}], "mark": {"type": "line", "interpolate": "monotone", "strokeWidth": 4, "color": "#6B9BD2"}, "encoding": {}},
  {"transform": [{"filter": "datum.k=='o'&&datum.s=='U'"}], "mark": {"type": "point", "shape": "circle", "filled": true, "size": 90, "opacity": 0.75, "strokeWidth": 0, "color": "#F25F2A"}, "encoding": {}},
  {"transform": [{"filter": "datum.k=='o'&&datum.s=='L'"}], "mark": {"type": "point", "shape": "diamond", "filled": true, "size": 100, "opacity": 0.75, "strokeWidth": 0, "color": "#7FA9D8"}, "encoding": {}}
 ]},
{"width": 92, "height": 93, "data": {"name": "psy"}, "transform": [{"filter": "datum.p=='15'"}],
 "encoding": {"x": {"field": "d", "type": "quantitative", "scale": {"domain": [0, 14], "reverse": true, "nice": false, "zero": false}, "axis": {"values": [0, 5, 10], "labels": false, "title": null}},
  "y": {"field": "v", "type": "quantitative", "scale": {"domain": [0, 100], "nice": false}, "axis": {"values": [0, 50, 100], "labels": false, "title": null}}},
 "layer": [
  {"transform": [{"filter": "datum.k=='f'&&datum.s=='U'"}], "mark": {"type": "line", "interpolate": "monotone", "strokeWidth": 4, "color": "#FF5500"}, "encoding": {}},
  {"transform": [{"filter": "datum.k=='f'&&datum.s=='L'"}], "mark": {"type": "line", "interpolate": "monotone", "strokeWidth": 4, "color": "#6B9BD2"}, "encoding": {}},
  {"transform": [{"filter": "datum.k=='o'&&datum.s=='U'"}], "mark": {"type": "point", "shape": "circle", "filled": true, "size": 90, "opacity": 0.75, "strokeWidth": 0, "color": "#F25F2A"}, "encoding": {}},
  {"transform": [{"filter": "datum.k=='o'&&datum.s=='L'"}], "mark": {"type": "point", "shape": "diamond", "filled": true, "size": 100, "opacity": 0.75, "strokeWidth": 0, "color": "#7FA9D8"}, "encoding": {}}
 ]},
{"width": 92, "height": 93, "data": {"name": "psy"}, "transform": [{"filter": "datum.p=='21'"}],
 "encoding": {"x": {"field": "d", "type": "quantitative", "scale": {"domain": [0, 14], "reverse": true, "nice": false, "zero": false}, "axis": {"values": [0, 5, 10], "labels": false, "title": null}},
  "y": {"field": "v", "type": "quantitative", "scale": {"domain": [0, 100], "nice": false}, "axis": {"values": [0, 50, 100], "labelPadding": 3, "title": "Percentage of hit response", "titlePadding": 10}}},
 "layer": [
  {"transform": [{"filter": "datum.k=='f'&&datum.s=='U'"}], "mark": {"type": "line", "interpolate": "monotone", "strokeWidth": 4, "color": "#FF5500"}, "encoding": {}},
  {"transform": [{"filter": "datum.k=='f'&&datum.s=='L'"}], "mark": {"type": "line", "interpolate": "monotone", "strokeWidth": 4, "color": "#6B9BD2"}, "encoding": {}},
  {"transform": [{"filter": "datum.k=='o'&&datum.s=='U'"}], "mark": {"type": "point", "shape": "circle", "filled": true, "size": 90, "opacity": 0.75, "strokeWidth": 0, "color": "#F25F2A"}, "encoding": {}},
  {"transform": [{"filter": "datum.k=='o'&&datum.s=='L'"}], "mark": {"type": "point", "shape": "diamond", "filled": true, "size": 100, "opacity": 0.75, "strokeWidth": 0, "color": "#7FA9D8"}, "encoding": {}}
 ]},
{"width": 92, "height": 93, "data": {"name": "psy"}, "transform": [{"filter": "datum.p=='22'"}],
 "encoding": {"x": {"field": "d", "type": "quantitative", "scale": {"domain": [0, 14], "reverse": true, "nice": false, "zero": false}, "axis": {"values": [0, 5, 10], "labels": false, "title": null}},
  "y": {"field": "v", "type": "quantitative", "scale": {"domain": [0, 100], "nice": false}, "axis": {"values": [0, 50, 100], "labels": false, "title": null}}},
 "layer": [
  {"transform": [{"filter": "datum.k=='f'&&datum.s=='U'"}], "mark": {"type": "line", "interpolate": "monotone", "strokeWidth": 4, "color": "#FF5500"}, "encoding": {}},
  {"transform": [{"filter": "datum.k=='f'&&datum.s=='L'"}], "mark": {"type": "line", "interpolate": "monotone", "strokeWidth": 4, "color": "#6B9BD2"}, "encoding": {}},
  {"transform": [{"filter": "datum.k=='o'&&datum.s=='U'"}], "mark": {"type": "point", "shape": "circle", "filled": true, "size": 90, "opacity": 0.75, "strokeWidth": 0, "color": "#F25F2A"}, "encoding": {}},
  {"transform": [{"filter": "datum.k=='o'&&datum.s=='L'"}], "mark": {"type": "point", "shape": "diamond", "filled": true, "size": 100, "opacity": 0.75, "strokeWidth": 0, "color": "#7FA9D8"}, "encoding": {}}
 ]},
{"width": 92, "height": 93, "data": {"name": "psy"}, "transform": [{"filter": "datum.p=='23'"}],
 "encoding": {"x": {"field": "d", "type": "quantitative", "scale": {"domain": [0, 14], "reverse": true, "nice": false, "zero": false}, "axis": {"values": [0, 5, 10], "labels": false, "title": null}},
  "y": {"field": "v", "type": "quantitative", "scale": {"domain": [0, 100], "nice": false}, "axis": {"values": [0, 50, 100], "labels": false, "title": null}}},
 "layer": [
  {"transform": [{"filter": "datum.k=='f'&&datum.s=='U'"}], "mark": {"type": "line", "interpolate": "monotone", "strokeWidth": 4, "color": "#FF5500"}, "encoding": {}},
  {"transform": [{"filter": "datum.k=='f'&&datum.s=='L'"}], "mark": {"type": "line", "interpolate": "monotone", "strokeWidth": 4, "color": "#6B9BD2"}, "encoding": {}},
  {"transform": [{"filter": "datum.k=='o'&&datum.s=='U'"}], "mark": {"type": "point", "shape": "circle", "filled": true, "size": 90, "opacity": 0.75, "strokeWidth": 0, "color": "#F25F2A"}, "encoding": {}},
  {"transform": [{"filter": "datum.k=='o'&&datum.s=='L'"}], "mark": {"type": "point", "shape": "diamond", "filled": true, "size": 100, "opacity": 0.75, "strokeWidth": 0, "color": "#7FA9D8"}, "encoding": {}}
 ]},
{"width": 92, "height": 93, "data": {"name": "psy"}, "transform": [{"filter": "datum.p=='24'"}],
 "encoding": {"x": {"field": "d", "type": "quantitative", "scale": {"domain": [0, 14], "reverse": true, "nice": false, "zero": false}, "axis": {"values": [0, 5, 10], "labels": false, "title": null}},
  "y": {"field": "v", "type": "quantitative", "scale": {"domain": [0, 100], "nice": false}, "axis": {"values": [0, 50, 100], "labels": false, "title": null}}},
 "layer": [
  {"transform": [{"filter": "datum.k=='f'&&datum.s=='U'"}], "mark": {"type": "line", "interpolate": "monotone", "strokeWidth": 4, "color": "#FF5500"}, "encoding": {}},
  {"transform": [{"filter": "datum.k=='f'&&datum.s=='L'"}], "mark": {"type": "line", "interpolate": "monotone", "strokeWidth": 4, "color": "#6B9BD2"}, "encoding": {}},
  {"transform": [{"filter": "datum.k=='o'&&datum.s=='U'"}], "mark": {"type": "point", "shape": "circle", "filled": true, "size": 90, "opacity": 0.75, "strokeWidth": 0, "color": "#F25F2A"}, "encoding": {}},
  {"transform": [{"filter": "datum.k=='o'&&datum.s=='L'"}], "mark": {"type": "point", "shape": "diamond", "filled": true, "size": 100, "opacity": 0.75, "strokeWidth": 0, "color": "#7FA9D8"}, "encoding": {}}
 ]},
{"width": 92, "height": 93, "data": {"name": "psy"}, "transform": [{"filter": "datum.p=='25'"}],
 "encoding": {"x": {"field": "d", "type": "quantitative", "scale": {"domain": [0, 14], "reverse": true, "nice": false, "zero": false}, "axis": {"values": [0, 5, 10], "labels": false, "title": null}},
  "y": {"field": "v", "type": "quantitative", "scale": {"domain": [0, 100], "nice": false}, "axis": {"values": [0, 50, 100], "labels": false, "title": null}}},
 "layer": [
  {"transform": [{"filter": "datum.k=='f'&&datum.s=='U'"}], "mark": {"type": "line", "interpolate": "monotone", "strokeWidth": 4, "color": "#FF5500"}, "encoding": {}},
  {"transform": [{"filter": "datum.k=='f'&&datum.s=='L'"}], "mark": {"type": "line", "interpolate": "monotone", "strokeWidth": 4, "color": "#6B9BD2"}, "encoding": {}},
  {"transform": [{"filter": "datum.k=='o'&&datum.s=='U'"}], "mark": {"type": "point", "shape": "circle", "filled": true, "size": 90, "opacity": 0.75, "strokeWidth": 0, "color": "#F25F2A"}, "encoding": {}},
  {"transform": [{"filter": "datum.k=='o'&&datum.s=='L'"}], "mark": {"type": "point", "shape": "diamond", "filled": true, "size": 100, "opacity": 0.75, "strokeWidth": 0, "color": "#7FA9D8"}, "encoding": {}}
 ]},
{"width": 92, "height": 93, "data": {"name": "psy"}, "transform": [{"filter": "datum.p=='31'"}],
 "encoding": {"x": {"field": "d", "type": "quantitative", "scale": {"domain": [0, 14], "reverse": true, "nice": false, "zero": false}, "axis": {"values": [0, 5, 10], "labelPadding": 6, "labelExpr": "datum.value==5?'':datum.label", "title": null}},
  "y": {"field": "v", "type": "quantitative", "scale": {"domain": [0, 100], "nice": false}, "axis": {"values": [0, 50, 100], "labelPadding": 3, "title": null}}},
 "layer": [
  {"transform": [{"filter": "datum.k=='f'&&datum.s=='U'"}], "mark": {"type": "line", "interpolate": "monotone", "strokeWidth": 4, "color": "#FF5500"}, "encoding": {}},
  {"transform": [{"filter": "datum.k=='f'&&datum.s=='L'"}], "mark": {"type": "line", "interpolate": "monotone", "strokeWidth": 4, "color": "#6B9BD2"}, "encoding": {}},
  {"transform": [{"filter": "datum.k=='o'&&datum.s=='U'"}], "mark": {"type": "point", "shape": "circle", "filled": true, "size": 90, "opacity": 0.75, "strokeWidth": 0, "color": "#F25F2A"}, "encoding": {}},
  {"transform": [{"filter": "datum.k=='o'&&datum.s=='L'"}], "mark": {"type": "point", "shape": "diamond", "filled": true, "size": 100, "opacity": 0.75, "strokeWidth": 0, "color": "#7FA9D8"}, "encoding": {}}
 ]},
{"width": 92, "height": 93, "data": {"name": "psy"}, "transform": [{"filter": "datum.p=='32'"}],
 "encoding": {"x": {"field": "d", "type": "quantitative", "scale": {"domain": [0, 14], "reverse": true, "nice": false, "zero": false}, "axis": {"values": [0, 5, 10], "labelPadding": 6, "labelExpr": "datum.value==5?'':datum.label", "title": null}},
  "y": {"field": "v", "type": "quantitative", "scale": {"domain": [0, 100], "nice": false}, "axis": {"values": [0, 50, 100], "labels": false, "title": null}}},
 "layer": [
  {"transform": [{"filter": "datum.k=='f'&&datum.s=='U'"}], "mark": {"type": "line", "interpolate": "monotone", "strokeWidth": 4, "color": "#FF5500"}, "encoding": {}},
  {"transform": [{"filter": "datum.k=='f'&&datum.s=='L'"}], "mark": {"type": "line", "interpolate": "monotone", "strokeWidth": 4, "color": "#6B9BD2"}, "encoding": {}},
  {"transform": [{"filter": "datum.k=='o'&&datum.s=='U'"}], "mark": {"type": "point", "shape": "circle", "filled": true, "size": 90, "opacity": 0.75, "strokeWidth": 0, "color": "#F25F2A"}, "encoding": {}},
  {"transform": [{"filter": "datum.k=='o'&&datum.s=='L'"}], "mark": {"type": "point", "shape": "diamond", "filled": true, "size": 100, "opacity": 0.75, "strokeWidth": 0, "color": "#7FA9D8"}, "encoding": {}}
 ]},
{"width": 92, "height": 93, "data": {"name": "psy"}, "transform": [{"filter": "datum.p=='33'"}],
 "encoding": {"x": {"field": "d", "type": "quantitative", "scale": {"domain": [0, 14], "reverse": true, "nice": false, "zero": false}, "axis": {"values": [0, 5, 10], "labelPadding": 6, "labelExpr": "datum.value==5?'':datum.label", "title": "Impact point from the center of face (cm)", "titlePadding": 14}},
  "y": {"field": "v", "type": "quantitative", "scale": {"domain": [0, 100], "nice": false}, "axis": {"values": [0, 50, 100], "labels": false, "title": null}}},
 "layer": [
  {"transform": [{"filter": "datum.k=='f'&&datum.s=='U'"}], "mark": {"type": "line", "interpolate": "monotone", "strokeWidth": 4, "color": "#FF5500"}, "encoding": {}},
  {"transform": [{"filter": "datum.k=='f'&&datum.s=='L'"}], "mark": {"type": "line", "interpolate": "monotone", "strokeWidth": 4, "color": "#6B9BD2"}, "encoding": {}},
  {"transform": [{"filter": "datum.k=='o'&&datum.s=='U'"}], "mark": {"type": "point", "shape": "circle", "filled": true, "size": 90, "opacity": 0.75, "strokeWidth": 0, "color": "#F25F2A"}, "encoding": {}},
  {"transform": [{"filter": "datum.k=='o'&&datum.s=='L'"}], "mark": {"type": "point", "shape": "diamond", "filled": true, "size": 100, "opacity": 0.75, "strokeWidth": 0, "color": "#7FA9D8"}, "encoding": {}}
 ]},
{"width": 92, "height": 93, "data": {"name": "psy"}, "transform": [{"filter": "datum.p=='34'"}],
 "encoding": {"x": {"field": "d", "type": "quantitative", "scale": {"domain": [0, 14], "reverse": true, "nice": false, "zero": false}, "axis": {"values": [0, 5, 10], "labelPadding": 6, "labelExpr": "datum.value==5?'':datum.label", "title": null}},
  "y": {"field": "v", "type": "quantitative", "scale": {"domain": [0, 100], "nice": false}, "axis": {"values": [0, 50, 100], "labels": false, "title": null}}},
 "layer": [
  {"transform": [{"filter": "datum.k=='f'&&datum.s=='U'"}], "mark": {"type": "line", "interpolate": "monotone", "strokeWidth": 4, "color": "#FF5500"}, "encoding": {}},
  {"transform": [{"filter": "datum.k=='f'&&datum.s=='L'"}], "mark": {"type": "line", "interpolate": "monotone", "strokeWidth": 4, "color": "#6B9BD2"}, "encoding": {}},
  {"transform": [{"filter": "datum.k=='o'&&datum.s=='U'"}], "mark": {"type": "point", "shape": "circle", "filled": true, "size": 90, "opacity": 0.75, "strokeWidth": 0, "color": "#F25F2A"}, "encoding": {}},
  {"transform": [{"filter": "datum.k=='o'&&datum.s=='L'"}], "mark": {"type": "point", "shape": "diamond", "filled": true, "size": 100, "opacity": 0.75, "strokeWidth": 0, "color": "#7FA9D8"}, "encoding": {}}
 ]},
{"width": 92, "height": 93, "data": {"name": "psy"}, "transform": [{"filter": "datum.p=='35'"}],
 "encoding": {"x": {"field": "d", "type": "quantitative", "scale": {"domain": [0, 14], "reverse": true, "nice": false, "zero": false}, "axis": {"values": [0, 5, 10], "labelPadding": 6, "labelExpr": "datum.value==5?'':datum.label", "title": null}},
  "y": {"field": "v", "type": "quantitative", "scale": {"domain": [0, 100], "nice": false}, "axis": {"values": [0, 50, 100], "labels": false, "title": null}}},
 "layer": [
  {"transform": [{"filter": "datum.k=='f'&&datum.s=='U'"}], "mark": {"type": "line", "interpolate": "monotone", "strokeWidth": 4, "color": "#FF5500"}, "encoding": {}},
  {"transform": [{"filter": "datum.k=='f'&&datum.s=='L'"}], "mark": {"type": "line", "interpolate": "monotone", "strokeWidth": 4, "color": "#6B9BD2"}, "encoding": {}},
  {"transform": [{"filter": "datum.k=='o'&&datum.s=='U'"}], "mark": {"type": "point", "shape": "circle", "filled": true, "size": 90, "opacity": 0.75, "strokeWidth": 0, "color": "#F25F2A"}, "encoding": {}},
  {"transform": [{"filter": "datum.k=='o'&&datum.s=='L'"}], "mark": {"type": "point", "shape": "diamond", "filled": true, "size": 100, "opacity": 0.75, "strokeWidth": 0, "color": "#7FA9D8"}, "encoding": {}}
 ]}
]
}
]
},
{
"title": {"text": "b", "anchor": "start", "dx": -9, "offset": -53, "fontSize": 31, "baseline": "alphabetic"},
"columns": 2,
"spacing": {"row": 80, "column": 62},
"bounds": "flush",
"resolve": {"scale": {"color": "independent"}},
"concat": [
{"title": {"text": "Stimuli from upper left", "fontSize": 17, "frame": "group", "offset": 8},
 "width": 186, "height": 191, "data": {"name": "cross"}, "transform": [{"filter": "datum.p=='UL'"}],
 "mark": {"type": "rule", "strokeWidth": 3},
 "encoding": {
  "x": {"field": "x", "type": "quantitative", "scale": {"domain": [-0.3, 0.3], "nice": false, "zero": false}, "axis": {"values": [-0.2, 0, 0.2], "labels": false, "title": null}},
  "x2": {"field": "x2"},
  "y": {"field": "y", "type": "quantitative", "scale": {"domain": [-0.3, 0.3], "reverse": true, "nice": false, "zero": false}, "axis": {"values": [-0.2, 0, 0.2], "labelExpr": "''+datum.value", "labelPadding": 9, "title": "Eye position (degrees from center)", "titleY": 231, "titleAlign": "center", "titlePadding": 8}},
  "y2": {"field": "y2"},
  "color": {"field": "c", "type": "nominal", "scale": {"domain": ["Hit conditions", "Miss conditions"], "range": ["#EE5A2B", "#3A4CA0"]}, "legend": null}}},
{"title": {"text": "Stimuli from upper right", "fontSize": 17, "frame": "group", "offset": 8},
 "width": 186, "height": 191, "data": {"name": "cross"}, "transform": [{"filter": "datum.p=='UR'"}],
 "mark": {"type": "rule", "strokeWidth": 3},
 "encoding": {
  "x": {"field": "x", "type": "quantitative", "scale": {"domain": [-0.3, 0.3], "nice": false, "zero": false}, "axis": {"values": [-0.2, 0, 0.2], "labels": false, "title": null}},
  "x2": {"field": "x2"},
  "y": {"field": "y", "type": "quantitative", "scale": {"domain": [-0.3, 0.3], "reverse": true, "nice": false, "zero": false}, "axis": {"values": [-0.2, 0, 0.2], "labelExpr": "''+datum.value", "labelPadding": 9, "title": null}},
  "y2": {"field": "y2"},
  "color": {"field": "c", "type": "nominal", "scale": {"domain": ["Hit conditions", "Miss conditions"], "range": ["#EE5A2B", "#3A4CA0"]}, "legend": null}}},
{"title": {"text": "Stimuli from lower left", "fontSize": 17, "frame": "group", "offset": 8},
 "width": 186, "height": 191, "data": {"name": "cross"}, "transform": [{"filter": "datum.p=='LL'"}],
 "mark": {"type": "rule", "strokeWidth": 3},
 "encoding": {
  "x": {"field": "x", "type": "quantitative", "scale": {"domain": [-0.3, 0.3], "nice": false, "zero": false}, "axis": {"values": [-0.2, 0, 0.2], "labelExpr": "''+datum.value", "labelPadding": 9, "title": "Eye position (degrees from center)", "titleX": 217, "titlePadding": 8}},
  "x2": {"field": "x2"},
  "y": {"field": "y", "type": "quantitative", "scale": {"domain": [-0.3, 0.3], "reverse": true, "nice": false, "zero": false}, "axis": {"values": [-0.2, 0, 0.2], "labelExpr": "''+datum.value", "labelPadding": 9, "title": null}},
  "y2": {"field": "y2"},
  "color": {"field": "c", "type": "nominal", "scale": {"domain": ["Hit conditions", "Miss conditions"], "range": ["#E3212B", "#3A4CA0"]}, "legend": {"orient": "none", "legendX": -27.5, "legendY": 263, "title": null, "symbolType": "M-1,0H1M0,-1V1", "symbolSize": 289, "symbolStrokeWidth": 3.5, "labelFontSize": 17.5, "labelOffset": 10, "rowPadding": 0}}}},
{"title": {"text": "Stimuli from lower right", "fontSize": 17, "frame": "group", "offset": 8},
 "width": 186, "height": 191, "data": {"name": "cross"}, "transform": [{"filter": "datum.p=='LR'"}],
 "mark": {"type": "rule", "strokeWidth": 3},
 "encoding": {
  "x": {"field": "x", "type": "quantitative", "scale": {"domain": [-0.3, 0.3], "nice": false, "zero": false}, "axis": {"values": [-0.2, 0, 0.2], "labelExpr": "''+datum.value", "labelPadding": 9, "title": null}},
  "x2": {"field": "x2"},
  "y": {"field": "y", "type": "quantitative", "scale": {"domain": [-0.3, 0.3], "reverse": true, "nice": false, "zero": false}, "axis": {"values": [-0.2, 0, 0.2], "labelExpr": "''+datum.value", "labelPadding": 9, "title": null}},
  "y2": {"field": "y2"},
  "color": {"field": "c", "type": "nominal", "scale": {"domain": ["Hit conditions", "Miss conditions"], "range": ["#E3212B", "#3A4CA0"]}, "legend": null}}}
]
}
]
}
